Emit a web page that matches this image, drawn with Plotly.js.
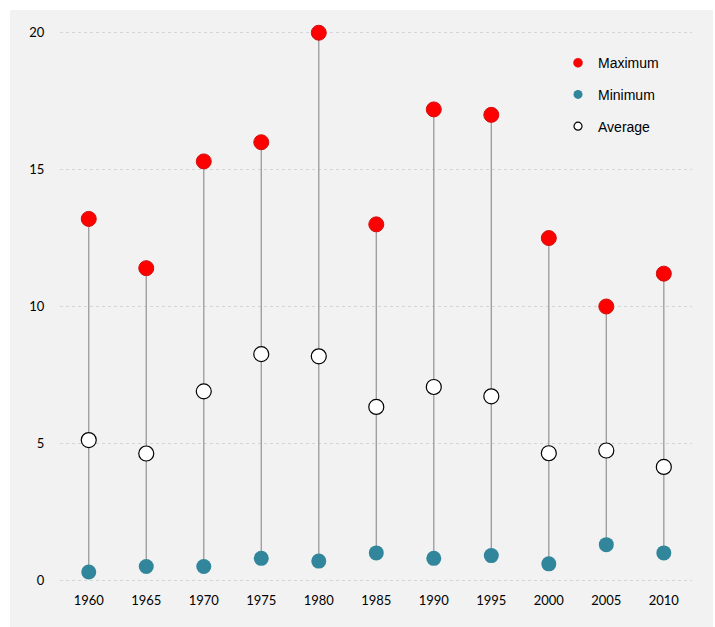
<!DOCTYPE html>
<html>
<head>
<meta charset="utf-8">
<script src="https://cdn.plot.ly/plotly-3.0.1.min.js"></script>
<style>
html,body{margin:0;padding:0;background:#ffffff;width:715px;height:627px;overflow:hidden;}
#chart{position:absolute;left:10px;top:10px;width:703px;height:617px;}
</style>
</head>
<body>
<div id="chart"></div>
<script>
const years = [1960, 1965, 1970, 1975, 1980, 1985, 1990, 1995, 2000, 2005, 2010];
const maximum = [13.2, 11.4, 15.3, 16.0, 20.0, 13.0, 17.2, 17.0, 12.5, 10.0, 11.2];
const minimum = [0.3, 0.5, 0.5, 0.8, 0.7, 1.0, 0.8, 0.9, 0.6, 1.3, 1.0];
const average = [5.12, 4.63, 6.9, 8.26, 8.18, 6.33, 7.06, 6.72, 4.64, 4.74, 4.14];
const yTicks = [0, 5, 10, 15, 20];

const lx = [], ly = [];
years.forEach((y, i) => { lx.push(y, y, null); ly.push(minimum[i], maximum[i], null); });

const font = {family: 'Lato, Open Sans, sans-serif', size: 13, color: '#000'};

const traces = [
  {x: lx, y: ly, mode: 'lines', line: {color: '#999999', width: 1.3}, showlegend: false, hoverinfo: 'skip', cliponaxis: false},
  {x: years, y: maximum, mode: 'markers', name: 'Maximum', showlegend: false, cliponaxis: false,
   marker: {color: '#ff0000', size: 15, line: {color: '#d01010', width: 1}}},
  {x: years, y: minimum, mode: 'markers', name: 'Minimum', showlegend: false, cliponaxis: false,
   marker: {color: '#31869b', size: 15, line: {color: '#31869b', width: 0}}},
  {x: years, y: average, mode: 'markers', name: 'Average', showlegend: false, cliponaxis: false,
   marker: {color: '#ffffff', size: 15, line: {color: '#000000', width: 1.2}}},
  {x: [null], y: [null], mode: 'markers', name: 'Maximum', legendgroup: 'a',
   marker: {color: '#ff0000', size: 9, line: {color: '#d01010', width: 0.5}}},
  {x: [null], y: [null], mode: 'markers', name: 'Minimum', legendgroup: 'b',
   marker: {color: '#31869b', size: 9, line: {width: 0}}},
  {x: [null], y: [null], mode: 'markers', name: 'Average', legendgroup: 'c',
   marker: {color: '#ffffff', size: 8, line: {color: '#000000', width: 1.2}}}
];

const layout = {
  width: 703, height: 617,
  paper_bgcolor: '#f2f2f2', plot_bgcolor: '#f2f2f2',
  margin: {l: 50, r: 21, t: 20, b: 44},
  font: font,
  showlegend: true,
  legend: {x: 0.788, y: 0.969, xanchor: 'left', yanchor: 'top', bgcolor: 'rgba(0,0,0,0)',
           font: {family: 'Liberation Sans, Arial, sans-serif', size: 14, color: '#000'},
           tracegroupgap: 10.5, itemwidth: 30},
  xaxis: {range: [1957.5, 2012.45], tickvals: years, ticktext: years.map(String),
          showgrid: false, zeroline: false, showline: false, ticks: 'outside', ticklen: 5,
          tickcolor: 'rgba(0,0,0,0)', tickfont: font},
  yaxis: {range: [-0.1, 20.1], tickvals: yTicks, ticktext: yTicks.map(String),
          showgrid: true, gridcolor: '#d6d6d6', griddash: 'dot', gridwidth: 1,
          zeroline: false, showline: false, ticks: 'outside', ticklen: 12,
          tickcolor: 'rgba(0,0,0,0)', tickfont: font}
};

Plotly.newPlot('chart', traces, layout, {displayModeBar: false, staticPlot: true});
</script>
</body>
</html>
